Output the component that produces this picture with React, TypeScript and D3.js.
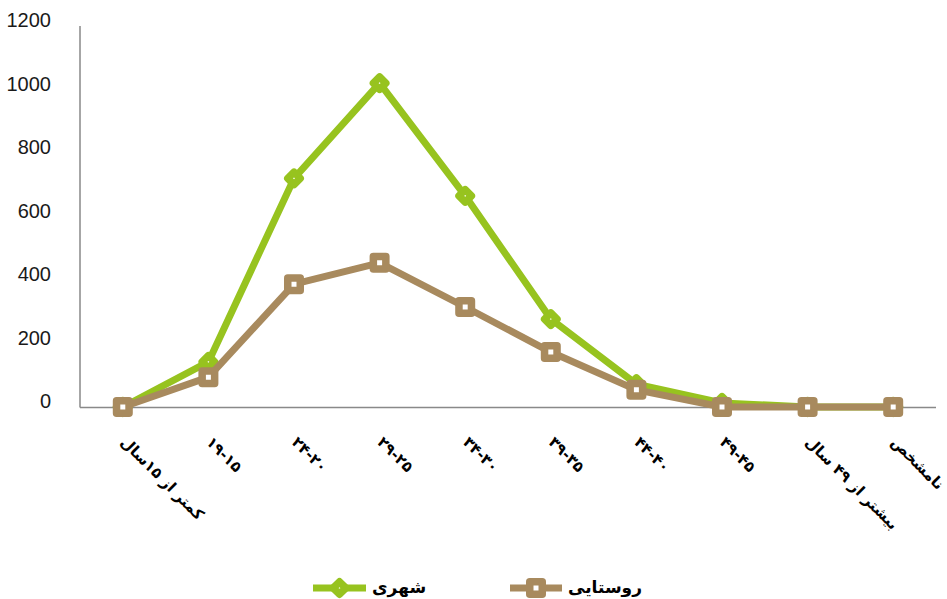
import React from "react";
import * as d3 from "d3";

const categories = [
  "کمتر از ۱۵سال",
  "۱۹-۱۵",
  "۲۴-۲۰",
  "۲۹-۲۵",
  "۳۴-۳۰",
  "۳۹-۳۵",
  "۴۴-۴۰",
  "۴۹-۴۵",
  "بیشتر از ۴۹ سال",
  "نامشخص",
];
const urban = [0, 142, 720, 1020, 665, 277, 72, 13, 0, 0];
const rural = [0, 94, 387, 454, 315, 173, 54, 0, 0, 0];
const yTicks = [0, 200, 400, 600, 800, 1000, 1200];
const seriesNames = ["شهری", "روستایی"];

const W = 947;
const H = 599;
const GREEN = "#97C31F";
const BROWN = "#A88A5E";
const AXIS = "#898989";

export default function App() {
  const x = d3.scaleBand<string>().domain(categories).range([80, 936]);
  const y = d3.scaleLinear().domain([0, 1200]).range([407, 26]);
  const cx = (i: number) => (x(categories[i]) as number) + x.bandwidth() / 2;
  const line = d3
    .line<number>()
    .x((_, i) => cx(i))
    .y((d) => y(d));

  const diamond = (px: number, py: number, d: number) =>
    `M${px},${py - d}L${px + d},${py}L${px},${py + d}L${px - d},${py}Z`;
  const square = (px: number, py: number, s: number) =>
    `M${px - s / 2},${py - s / 2}h${s}v${s}h${-s}Z`;

  const series = [
    { name: seriesNames[0], values: urban, color: GREEN, marker: "diamond" },
    { name: seriesNames[1], values: rural, color: BROWN, marker: "square" },
  ];

  const markerPath = (m: string, px: number, py: number) =>
    m === "diamond" ? diamond(px, py, 6.2) : square(px, py, 12.5);

  const legendItems = [
    { x0: 313, x1: 366, tx: 372 },
    { x0: 510, x1: 562, tx: 568 },
  ];

  return (
    <svg
      width={W}
      height={H}
      style={{ position: "absolute", left: 0, top: 0, background: "#fff" }}
    >
      {/* axes */}
      <line x1={80} y1={26} x2={80} y2={407.5} stroke={AXIS} strokeWidth={1.5} />
      <line x1={80} y1={407.5} x2={936} y2={407.5} stroke={AXIS} strokeWidth={1.5} />

      {yTicks.map((t) => (
        <text
          key={t}
          x={51}
          y={y(t) - 4}
          textAnchor="end"
          dominantBaseline="middle"
          fontFamily="'Liberation Sans Narrow', 'Arial Narrow', sans-serif"
          fontSize={20}
          fill="#1a1a1a"
        >
          {t}
        </text>
      ))}

      {categories.map((c, i) => {
        const ax = cx(i) - 3;
        const ay = 443;
        return (
          <text
            key={c}
            x={ax}
            y={ay}
            transform={`rotate(45 ${ax} ${ay})`}
            textAnchor="start"
            fontFamily="'DejaVu Sans', sans-serif"
            fontWeight="bold"
            fontSize={15}
            fill="#000"
          >
            {c}
          </text>
        );
      })}

      {series.map((s) => (
        <g key={s.name}>
          <path
            d={line(s.values) as string}
            fill="none"
            stroke={s.color}
            strokeWidth={7}
            strokeLinejoin="round"
          />
          {s.values.map((v, i) => (
            <path
              key={i}
              d={markerPath(s.marker, cx(i), y(v))}
              fill="#fff"
              stroke={s.color}
              strokeWidth={7.5}
              strokeLinejoin="round"
            />
          ))}
        </g>
      ))}

      {series.map((s, k) => {
        const L = legendItems[k];
        const mx = (L.x0 + L.x1) / 2;
        return (
          <g key={"lg" + k}>
            <line x1={L.x0} x2={L.x1} y1={588} y2={588} stroke={s.color} strokeWidth={7} />
            <path
              d={markerPath(s.marker, mx, 588)}
              fill="#fff"
              stroke={s.color}
              strokeWidth={7.5}
              strokeLinejoin="round"
            />
            <text
              x={L.tx}
              y={588}
              dominantBaseline="middle"
              textAnchor="start"
              fontFamily="'DejaVu Sans', sans-serif"
              fontWeight="bold"
              fontSize={17}
              fill="#000"
            >
              {s.name}
            </text>
          </g>
        );
      })}
    </svg>
  );
}
